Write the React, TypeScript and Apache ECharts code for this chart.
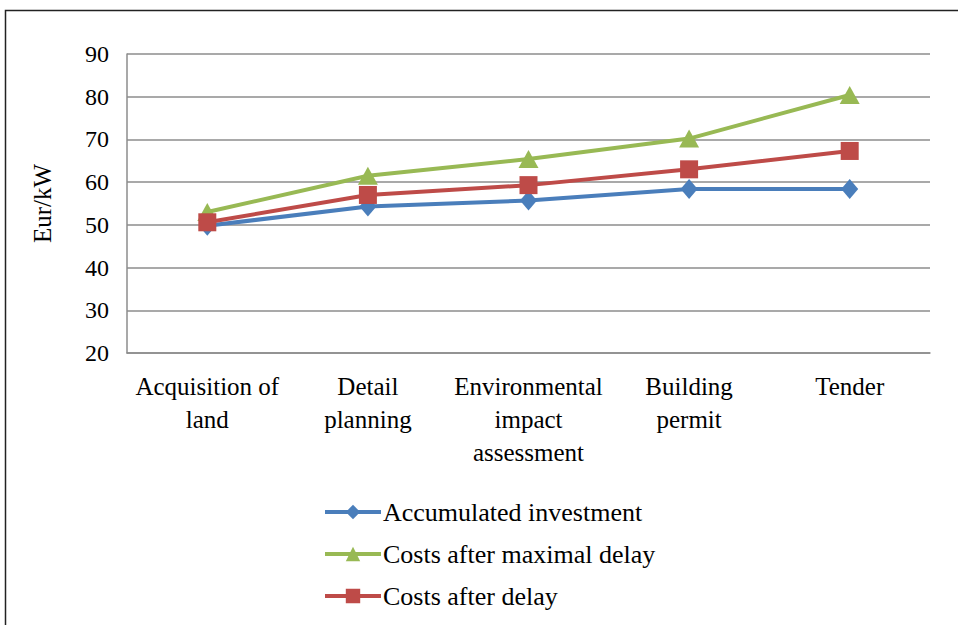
import React, { useEffect, useRef } from "react";
import * as echarts from "echarts";

const categories = [
  "Acquisition of\nland",
  "Detail\nplanning",
  "Environmental\nimpact\nassessment",
  "Building\npermit",
  "Tender",
];
const accumulatedInvestment = [49.8, 54.3, 55.7, 58.4, 58.4];
const costsAfterMaximalDelay = [53.0, 61.5, 65.4, 70.2, 80.4];
const costsAfterDelay = [50.6, 57.0, 59.3, 63.0, 67.3];
const seriesNames = ["Accumulated investment", "Costs after maximal delay", "Costs after delay"];

const FONT = "'Liberation Serif', 'DejaVu Serif', serif";

export default function App() {
  const ref = useRef<HTMLDivElement>(null);
  useEffect(() => {
    if (!ref.current) return;
    const chart = echarts.init(ref.current, null, { renderer: "svg" });
    chart.setOption({
      animation: false,
      backgroundColor: "#ffffff",
      textStyle: { fontFamily: FONT, color: "#000" },
      graphic: [
        {
          type: "rect",
          shape: { x: 5.5, y: 10.5, width: 970, height: 640 },
          style: { fill: "none", stroke: "#222", lineWidth: 1.5 },
          silent: true,
        },
      ],
      grid: { left: 127, right: 28, top: 54, bottom: 272, containLabel: false },
      xAxis: {
        type: "category",
        data: categories,
        boundaryGap: true,
        axisLine: { show: true, lineStyle: { color: "#8c8c8c", width: 1.5 } },
        axisTick: { show: false },
        axisLabel: {
          fontFamily: FONT,
          fontSize: 25,
          color: "#000",
          lineHeight: 33,
          margin: 17,
          interval: 0,
        },
      },
      yAxis: {
        type: "value",
        min: 20,
        max: 90,
        interval: 10,
        name: "Eur/kW",
        nameLocation: "middle",
        nameGap: 72,
        nameRotate: 90,
        nameTextStyle: { fontFamily: FONT, fontSize: 25, color: "#000" },
        axisLine: { show: true, lineStyle: { color: "#8c8c8c", width: 1.5 } },
        axisTick: { show: false },
        axisLabel: { fontFamily: FONT, fontSize: 24, color: "#000", margin: 18 },
        splitLine: { show: true, lineStyle: { color: "#8c8c8c", width: 1.5 } },
      },
      legend: {
        orient: "vertical",
        left: 318,
        top: 494,
        itemWidth: 56,
        itemHeight: 18,
        itemGap: 16,
        lineStyle: { width: 4 },
        textStyle: { fontFamily: FONT, fontSize: 26, color: "#000", padding: [0, 0, 0, -3] },
        data: seriesNames,
      },
      series: [
        {
          name: seriesNames[0],
          type: "line",
          data: accumulatedInvestment,
          symbol: "diamond",
          symbolSize: [17, 20],
          lineStyle: { width: 4, color: "#4a7ebb" },
          itemStyle: { color: "#4a7ebb" },
          z: 3,
        },
        {
          name: seriesNames[1],
          type: "line",
          data: costsAfterMaximalDelay,
          symbol: "triangle",
          symbolSize: [20, 18],
          lineStyle: { width: 4, color: "#98b954" },
          itemStyle: { color: "#98b954" },
          z: 4,
        },
        {
          name: seriesNames[2],
          type: "line",
          data: costsAfterDelay,
          symbol: "rect",
          symbolSize: 18,
          lineStyle: { width: 4, color: "#be4b48" },
          itemStyle: { color: "#be4b48" },
          z: 5,
        },
      ],
    });
    return () => chart.dispose();
  }, []);
  return (
    <div
      ref={ref}
      style={{ position: "fixed", left: 0, top: 0, width: 958, height: 625 }}
    />
  );
}
